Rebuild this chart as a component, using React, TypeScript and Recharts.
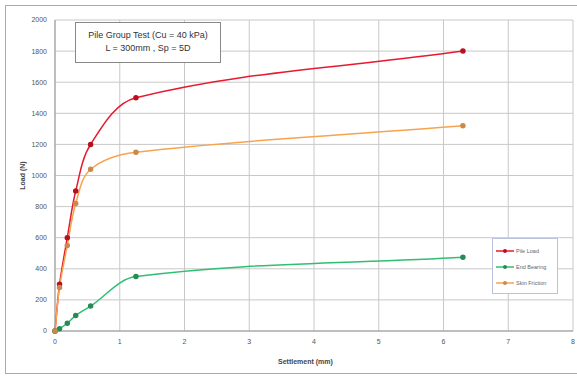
import { CartesianGrid, Line, LineChart, XAxis, YAxis } from "recharts";

const settlement = [0, 0.07, 0.19, 0.32, 0.55, 1.25, 6.3];
const pileLoad = [0, 300, 600, 900, 1200, 1500, 1800];
const endBearing = [0, 15, 50, 100, 160, 350, 475];
const skinFriction = [0, 280, 550, 820, 1040, 1150, 1320];
const xTicks = [0, 1, 2, 3, 4, 5, 6, 7, 8];
const yTicks = [0, 200, 400, 600, 800, 1000, 1200, 1400, 1600, 1800, 2000];

const rows = settlement.map((s, i) => ({
  s,
  pile: pileLoad[i],
  end: endBearing[i],
  skin: skinFriction[i],
}));

const FONT = "'Liberation Sans', Arial, sans-serif";
const TICK = { fill: "#555", fontSize: 7, fontFamily: FONT };
const AXIS_LINE = { stroke: "#999" };

const series = [
  { key: "pile", name: "Pile Load", color: "#e8182f", dot: "#b8101f" },
  { key: "end", name: "End Bearing", color: "#2fbf72", dot: "#2a8a55" },
  { key: "skin", name: "Skin Friction", color: "#f7a44e", dot: "#c98a4a" },
];

// smoothed line like Excel's: tangent from neighbours, handle length scaled to segment length
function excelSmooth(context: any) {
  let pts: number[][] = [];
  const dist = (a: number[], b: number[]) => Math.hypot(b[0] - a[0], b[1] - a[1]) || 1e-6;
  return {
    areaStart() {},
    areaEnd() {},
    lineStart() {
      pts = [];
    },
    point(x: number, y: number) {
      pts.push([+x, +y]);
    },
    lineEnd() {
      if (!pts.length) return;
      context.moveTo(pts[0][0], pts[0][1]);
      for (let i = 0; i < pts.length - 1; i++) {
        const p0 = pts[Math.max(i - 1, 0)];
        const p1 = pts[i];
        const p2 = pts[i + 1];
        const p3 = pts[Math.min(i + 2, pts.length - 1)];
        const d = dist(p1, p2);
        const n1 = dist(p0, p2);
        const n2 = dist(p1, p3);
        const k = d / 3;
        context.bezierCurveTo(
          p1[0] + ((p2[0] - p0[0]) / n1) * k,
          p1[1] + ((p2[1] - p0[1]) / n1) * k,
          p2[0] - ((p3[0] - p1[0]) / n2) * k,
          p2[1] - ((p3[1] - p1[1]) / n2) * k,
          p2[0],
          p2[1]
        );
      }
    },
  };
}

function LegendBox() {
  return (
    <div
      style={{
        position: "absolute",
        left: 492,
        top: 238,
        width: 66,
        height: 56,
        boxSizing: "border-box",
        border: "1px solid #b9c3dd",
        background: "#fff",
        padding: "4px 0 0 3px",
        fontFamily: FONT,
        fontSize: 5.5,
        color: "#666",
      }}
    >
      {series.map((s) => (
        <div key={s.key} style={{ display: "flex", alignItems: "center", height: 16 }}>
          <svg width={18} height={6}>
            <line x1={0} y1={3} x2={18} y2={3} stroke={s.color} strokeWidth={1.5} />
            <circle cx={9} cy={3} r={2} fill={s.dot} />
          </svg>
          <span style={{ marginLeft: 2 }}>{s.name}</span>
        </div>
      ))}
    </div>
  );
}

export default function App() {
  return (
    <div style={{ position: "absolute", left: 0, top: 0, width: 577, height: 378, background: "#fff" }}>
      <div
        style={{
          position: "absolute",
          left: 5,
          top: 5,
          width: 580,
          height: 369,
          border: "1px solid #aaa",
          boxSizing: "border-box",
        }}
      />
      <LineChart width={577} height={378} data={rows} margin={{ top: 20, right: 4, left: 25, bottom: 27 }}>
        <CartesianGrid stroke="#c8c8c8" />
        <XAxis
          dataKey="s"
          type="number"
          domain={[0, 8]}
          ticks={xTicks}
          axisLine={AXIS_LINE}
          tickLine={false}
          tick={TICK}
          height={20}
          interval={0}
        />
        <YAxis
          type="number"
          domain={[0, 2000]}
          ticks={yTicks}
          axisLine={AXIS_LINE}
          tickLine={false}
          tick={TICK}
          width={30}
          interval={0}
        />
        {series.map((s) => (
          <Line
            key={s.key}
            dataKey={s.key}
            name={s.name}
            type={excelSmooth as any}
            stroke={s.color}
            strokeWidth={1.5}
            dot={{ r: 2, fill: s.dot, stroke: s.dot }}
            isAnimationActive={false}
          />
        ))}
      </LineChart>
      <LegendBox />
      <div
        style={{
          position: "absolute",
          left: 75,
          top: 22,
          width: 146,
          height: 41,
          border: "1px solid #888",
          boxSizing: "border-box",
          background: "#fff",
          fontFamily: FONT,
          fontSize: 9,
          color: "#333",
          textAlign: "center",
          lineHeight: "13px",
          paddingTop: 6,
        }}
      >
        Pile Group Test (Cu = 40 kPa)
        <br />
        L = 300mm , Sp = 5D
      </div>
      <div
        style={{
          position: "absolute",
          left: 278,
          top: 358,
          fontFamily: FONT,
          fontSize: 7,
          fontWeight: "bold",
          color: "#444",
        }}
      >
        Settlement (mm)
      </div>
      <div
        style={{
          position: "absolute",
          left: 2,
          top: 172,
          width: 40,
          textAlign: "center",
          transform: "rotate(-90deg)",
          fontFamily: FONT,
          fontSize: 7,
          fontWeight: "bold",
          color: "#444",
        }}
      >
        Load (N)
      </div>
    </div>
  );
}
